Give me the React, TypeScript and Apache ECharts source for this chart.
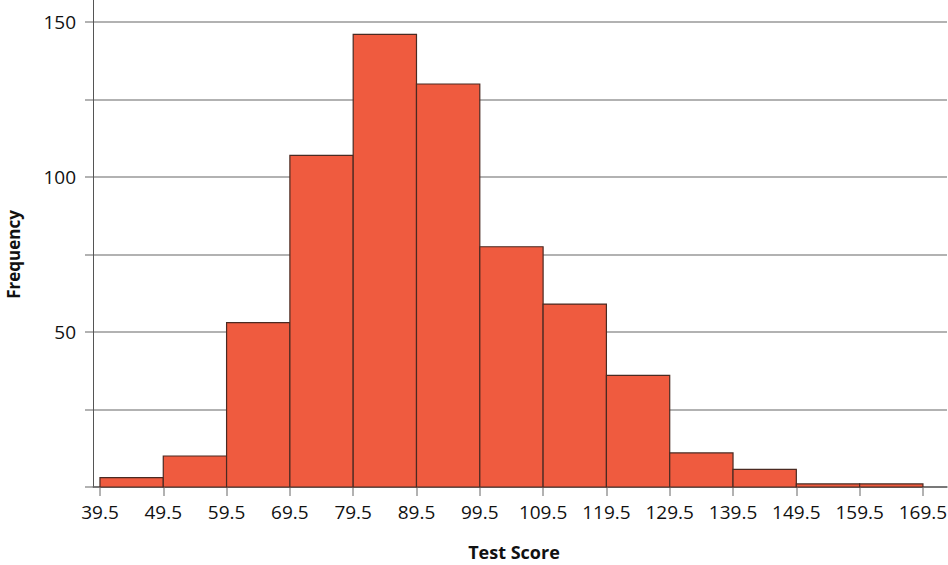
import React, { useEffect, useRef } from "react";
import * as echarts from "echarts";

const binStarts = [39.5, 49.5, 59.5, 69.5, 79.5, 89.5, 99.5, 109.5, 119.5, 129.5, 139.5, 149.5, 159.5];
const binWidth = 10;
const frequencies = [3, 10, 53, 107, 146, 130, 77.5, 59, 36, 11, 5.7, 1, 1];
const xTickValues = [39.5, 49.5, 59.5, 69.5, 79.5, 89.5, 99.5, 109.5, 119.5, 129.5, 139.5, 149.5, 159.5, 169.5];
const yLabelValues = [50, 100, 150];

const FONT = "Open Sans";

export default function App() {
  const ref = useRef<HTMLDivElement>(null);
  useEffect(() => {
    if (!ref.current) return;
    const chart = echarts.init(ref.current, null, { renderer: "svg" });
    const data = binStarts.map((s, i) => [s, s + binWidth, frequencies[i]]);
    chart.setOption({
      animation: false,
      grid: { left: 93, right: 1, top: 22, bottom: 78, containLabel: false, outerBoundsMode: "none" },
      xAxis: {
        type: "value",
        min: 38.4,
        max: 173.3,
        name: "Test Score",
        nameLocation: "middle",
        nameGap: 56,
        nameTextStyle: { fontFamily: FONT, fontSize: 18, fontWeight: "bold", color: "#111", padding: [0, 12, 0, 0] },
        axisLine: { show: true, onZero: false, lineStyle: { color: "#666", width: 1.5 } },
        axisTick: { show: true, customValues: xTickValues, length: 9, lineStyle: { color: "#999", width: 1.5 } },
        axisLabel: { customValues: xTickValues, margin: 15, fontFamily: FONT, fontSize: 19, color: "#111", formatter: (v: number) => String(v) },
        splitLine: { show: false },
      },
      yAxis: {
        type: "value",
        min: 0,
        max: 150,
        interval: 25,
        name: "Frequency",
        nameLocation: "middle",
        nameGap: 71,
        nameTextStyle: { fontFamily: FONT, fontSize: 17, fontWeight: "bold", color: "#111" },
        axisLine: { show: true, lineStyle: { color: "#555", width: 1 } },
        axisTick: { show: true, length: 8, lineStyle: { color: "#999", width: 1.5 } },
        axisLabel: {
          margin: 17,
          fontFamily: FONT,
          fontSize: 19,
          color: "#111",
          formatter: (v: number) => (yLabelValues.includes(v) ? String(v) : ""),
        },
        splitLine: { show: true, lineStyle: { color: "#999", width: 1.5 } },
      },
      graphic: [
        {
          type: "line",
          shape: { x1: 93.5, y1: 0, x2: 93.5, y2: 22 },
          style: { stroke: "#555", lineWidth: 1 },
          z: 10,
        },
      ],
      series: [
        {
          type: "custom",
          encode: { x: [0, 1], y: 2 },
          data,
          z: 3,
          renderItem: (params: any, api: any) => {
            const p0 = api.coord([api.value(0), 0]);
            const p1 = api.coord([api.value(1), api.value(2)]);
            return {
              type: "rect",
              shape: { x: p0[0], y: p1[1], width: p1[0] - p0[0], height: p0[1] - p1[1] },
              style: { fill: "#EF5B3F", stroke: "#4a2a22", lineWidth: 1.2 },
            };
          },
        },
      ],
    });
    return () => chart.dispose();
  }, []);
  return <div ref={ref} style={{ width: 948, height: 565, position: "absolute", left: 0, top: 0 }} />;
}
